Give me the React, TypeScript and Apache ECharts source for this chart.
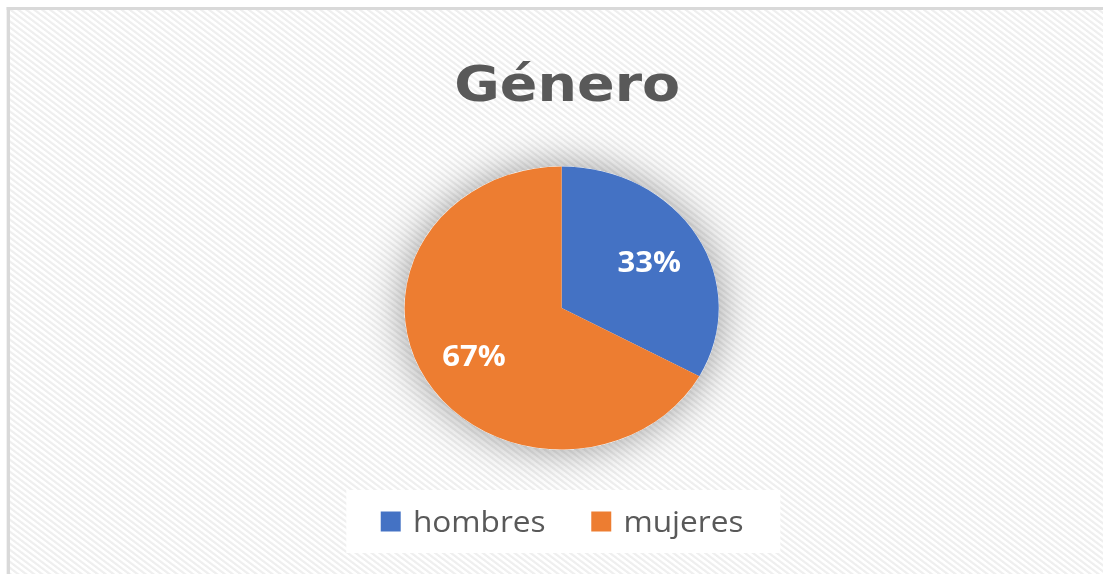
import React, { useEffect, useRef } from "react";
import * as echarts from "echarts";

const titleText = "Género";
const categories = ["hombres", "mujeres"];
const values = [33, 67];
const colors = ["#4472C4", "#ED7D31"];

const SX = 1.11;

export default function App() {
  const ref = useRef<HTMLDivElement>(null);
  useEffect(() => {
    if (!ref.current) return;
    const chart = echarts.init(ref.current, undefined, { renderer: "svg" });
    const data = categories.map((c, i) => ({ name: c, value: values[i] }));
    chart.setOption({
      animation: false,
      backgroundColor: "transparent",
      title: {
        text: titleText,
        left: 506,
        textAlign: "center",
        top: 53,
        textStyle: {
          fontFamily: "DejaVu Sans",
          fontWeight: "bold",
          fontSize: 50,
          color: "#595959",
        },
      },
      legend: {
        data: categories,
        left: 312,
        top: 490,
        padding: [17, 33, 17, 31],
        backgroundColor: "#ffffff",
        itemGap: 41,
        itemWidth: 18,
        itemHeight: 20,
        icon: "rect",
        textStyle: { fontFamily: "Open Sans", fontSize: 28.5, color: "#595959", padding: [0, 0, 0, 6] },
        selectedMode: false,
      },
      series: [
        {
          type: "pie",
          name: "sombra",
          silent: true,
          z: 1,
          center: [506, 308],
          radius: [0, 141.5],
          label: { show: false },
          labelLine: { show: false },
          data: [{ name: "", value: 1 }],
          itemStyle: {
            color: "#ffffff",
            shadowBlur: 40,
            shadowColor: "rgba(0,0,0,0.4)",
          },
        },
        {
          type: "pie",
          name: titleText,
          z: 2,
          center: [506, 308],
          radius: [0, 141.5],
          startAngle: 90,
          clockwise: true,
          label: { show: false },
          labelLine: { show: false },
          itemStyle: { borderWidth: 0 },
          color: colors,
          data,
        },
        {
          type: "pie",
          name: "etiquetas",
          silent: true,
          z: 3,
          center: [506, 308],
          radius: [36, 141.5],
          startAngle: 90,
          clockwise: true,
          itemStyle: { color: "rgba(0,0,0,0)", borderWidth: 0 },
          label: {
            show: true,
            position: "inside",
            formatter: "{d}%",
            fontFamily: "Open Sans",
            fontWeight: "bold",
            fontSize: 28,
            color: "#ffffff",
          },
          labelLine: { show: false },
          data,
        },
      ],
    });
    return () => chart.dispose();
  }, []);

  return (
    <div style={{ position: "absolute", left: 0, top: 0, width: 1103, height: 574, overflow: "hidden", background: "#fff" }}>
      <div
        style={{
          position: "absolute",
          left: 0,
          top: 0,
          width: 1000,
          height: 600,
          transform: `scaleX(${SX})`,
          transformOrigin: "0 0",
        }}
      >
        <div
          style={{
            position: "absolute",
            left: 6.3,
            top: 7,
            width: 2000,
            height: 2000,
            boxSizing: "border-box",
            borderLeft: "3px solid #d9d9d9",
            borderTop: "3px solid #d9d9d9",
            background:
              "repeating-linear-gradient(40deg, #ffffff 0px, #ffffff 1.6px, #efefef 2.3px, #efefef 3.6px, #ffffff 4.6px)",
          }}
        />
        <div ref={ref} style={{ position: "absolute", left: 0, top: 0, width: 1000, height: 600 }} />
      </div>
    </div>
  );
}
